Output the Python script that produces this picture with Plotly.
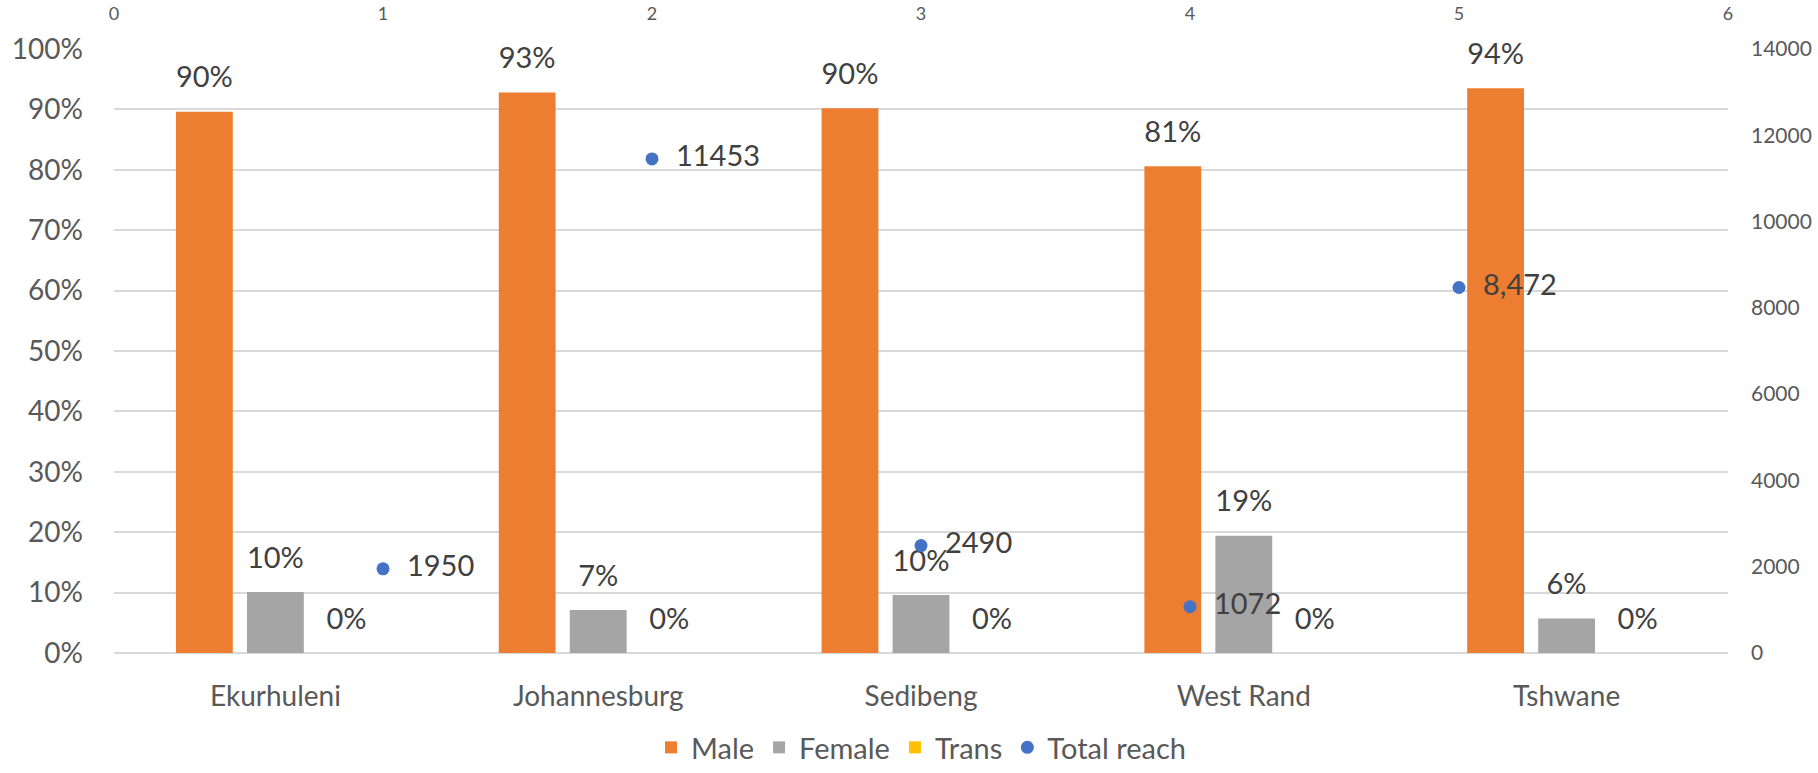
import plotly.graph_objects as go

districts = ["Ekurhuleni", "Johannesburg", "Sedibeng", "West Rand", "Tshwane"]
male = [0.896, 0.928, 0.902, 0.806, 0.935]
female = [0.101, 0.071, 0.096, 0.194, 0.057]
trans = [0.0, 0.0, 0.0, 0.0, 0.0]
reach_x = [1, 2, 3, 4, 5]
reach = [1950, 11453, 2490, 1072, 8472]
reach_labels = ["1950", "11453", "2490", "1072", "8,472"]

FONT = "Lato, 'Liberation Sans', Arial, sans-serif"
LABEL = dict(family=FONT, size=29, color="#404040")

series = [("Male", male, "#ED7D31"),
          ("Female", female, "#A5A5A5"),
          ("Trans", trans, "#FFC000")]

fig = go.Figure()
for name, vals, color in series:
    fig.add_trace(go.Bar(
        x=districts, y=vals, name=name, offsetgroup=name,
        marker={'color': color, 'line': {'width': 0}},
        hovertemplate="%{y:.0%}",
    ))

# data labels, grouped like the bars so they sit above each one
for name, vals, color in series:
    fig.add_trace(go.Scatter(
        x=districts, y=vals, offsetgroup=name, mode='markers+text',
        marker={'size': 26, 'opacity': 0},
        text=[f"{v:.0%}" for v in vals], textposition='top center',
        textfont=LABEL, showlegend=False, hoverinfo='skip', cliponaxis=False,
    ))

fig.add_trace(go.Scatter(
    x=reach_x, y=reach, xaxis='x2', yaxis='y2',
    name="Total reach", mode='markers+text',
    marker={'color': '#4472C4', 'size': 13},
    text=reach_labels, texttemplate="\u00a0\u00a0%{text}",
    textposition='middle right', textfont=LABEL,
    cliponaxis=False,
))

fig.update_layout(
    width=1818, height=773,
    barmode='group', bargap=0.34, bargroupgap=0.2,
    scattermode='group', scattergap=0.34,
    paper_bgcolor='white', plot_bgcolor='white',
    font=dict(family=FONT, color="#595959"),
    margin={'l': 114, 'r': 90, 't': 49, 'b': 120},
    showlegend=True,
    legend={'orientation': 'h', 'xanchor': 'center', 'x': 0.5,
            'yref': 'container', 'yanchor': 'bottom', 'y': 0.0,
            'font': {'size': 29}, 'itemwidth': 30},
    xaxis=dict(showgrid=False, showline=False, ticks='', automargin=False,
               tickfont=dict(size=28), ticklabelstandoff=24),
    yaxis=dict(range=[0, 1], dtick=0.1, tickformat='.0%', automargin=False,
               showgrid=True, gridcolor='#D9D9D9', gridwidth=1.5,
               zeroline=True, zerolinecolor='#D9D9D9', zerolinewidth=1.5,
               tickfont=dict(size=28), ticklabelstandoff=30),
    xaxis2=dict(overlaying='x', side='top', range=[0, 6], dtick=1,
                showgrid=False, zeroline=False, showline=False, automargin=False,
                tickfont=dict(size=18), ticklabelstandoff=24),
    yaxis2=dict(overlaying='y', side='right', range=[0, 14000], dtick=2000,
                tickformat='d', automargin=False,
                showgrid=False, zeroline=False, showline=False,
                tickfont=dict(size=21), ticklabelstandoff=22),
)

fig.write_html("out.html", config={'displayModeBar': False},
               post_script="document.body.style.margin='0';")
